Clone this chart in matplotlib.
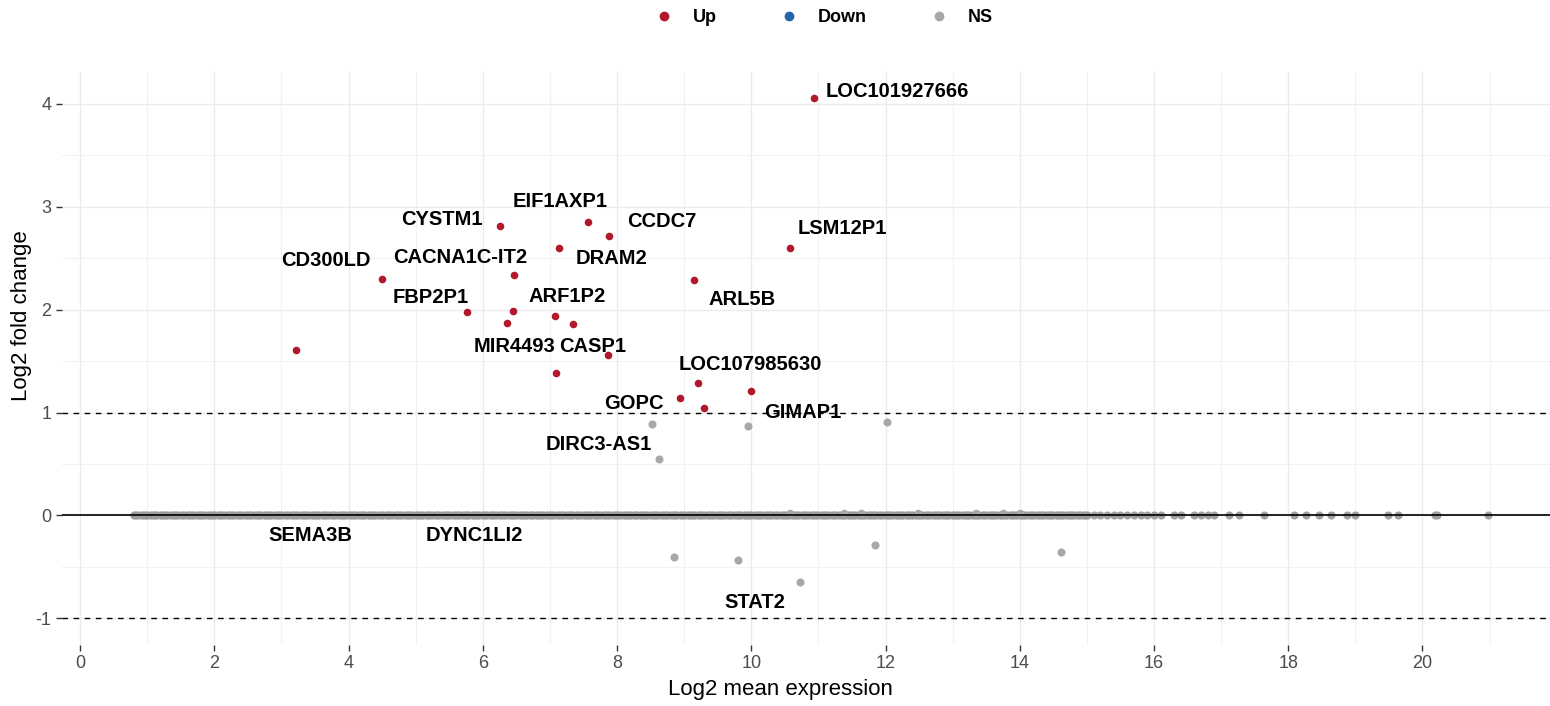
import matplotlib
matplotlib.use('Agg')
import matplotlib.pyplot as plt
from matplotlib.lines import Line2D

plt.rcParams['font.family'] = ['Liberation Sans', 'DejaVu Sans']
plt.rcParams['axes.unicode_minus'] = False

# significant (Up) genes: mean expression, log2 fold change
up_x = [10.93, 10.57, 6.25, 7.57, 7.88, 7.13, 4.50, 6.46, 9.14, 5.76,
        6.45, 7.07, 7.34, 6.36, 3.22, 7.86, 7.09, 9.20, 9.99, 8.94, 9.29]
up_y = [4.06, 2.60, 2.81, 2.85, 2.72, 2.60, 2.30, 2.34, 2.29, 1.98,
        1.99, 1.94, 1.86, 1.87, 1.61, 1.56, 1.38, 1.29, 1.21, 1.14, 1.04]

# non-significant genes away from zero
ns_x = [8.52, 9.95, 12.02, 8.62, 8.85, 9.80, 10.72, 11.84, 14.61]
ns_y = [0.89, 0.87, 0.91, 0.55, -0.40, -0.43, -0.65, -0.29, -0.36]

# the bulk of genes sitting on log2FC = 0 (dense part)
zero_x = [
    0.80, 0.85, 0.90, 0.95,
    1.00, 1.05, 1.10, 1.15, 1.20, 1.25, 1.30, 1.35, 1.40, 1.45, 1.50, 1.55, 1.60, 1.65, 1.70, 1.75, 1.80, 1.85, 1.90, 1.95,
    2.00, 2.05, 2.10, 2.15, 2.20, 2.25, 2.30, 2.35, 2.40, 2.45, 2.50, 2.55, 2.60, 2.65, 2.70, 2.75, 2.80, 2.85, 2.90, 2.95,
    3.00, 3.05, 3.10, 3.15, 3.20, 3.25, 3.30, 3.35, 3.40, 3.45, 3.50, 3.55, 3.60, 3.65, 3.70, 3.75, 3.80, 3.85, 3.90, 3.95,
    4.00, 4.05, 4.10, 4.15, 4.20, 4.25, 4.30, 4.35, 4.40, 4.45, 4.50, 4.55, 4.60, 4.65, 4.70, 4.75, 4.80, 4.85, 4.90, 4.95,
    5.00, 5.05, 5.10, 5.15, 5.20, 5.25, 5.30, 5.35, 5.40, 5.45, 5.50, 5.55, 5.60, 5.65, 5.70, 5.75, 5.80, 5.85, 5.90, 5.95,
    6.00, 6.05, 6.10, 6.15, 6.20, 6.25, 6.30, 6.35, 6.40, 6.45, 6.50, 6.55, 6.60, 6.65, 6.70, 6.75, 6.80, 6.85, 6.90, 6.95,
    7.00, 7.05, 7.10, 7.15, 7.20, 7.25, 7.30, 7.35, 7.40, 7.45, 7.50, 7.55, 7.60, 7.65, 7.70, 7.75, 7.80, 7.85, 7.90, 7.95,
    8.00, 8.05, 8.10, 8.15, 8.20, 8.25, 8.30, 8.35, 8.40, 8.45, 8.50, 8.55, 8.60, 8.65, 8.70, 8.75, 8.80, 8.85, 8.90, 8.95,
    9.00, 9.05, 9.10, 9.15, 9.20, 9.25, 9.30, 9.35, 9.40, 9.45, 9.50, 9.55, 9.60, 9.65, 9.70, 9.75, 9.80, 9.85, 9.90, 9.95,
    10.00, 10.05, 10.10, 10.15, 10.20, 10.25, 10.30, 10.35, 10.40, 10.45, 10.50, 10.55, 10.60, 10.65, 10.70, 10.75, 10.80, 10.85, 10.90, 10.95,
    11.00, 11.05, 11.10, 11.15, 11.20, 11.25, 11.30, 11.35, 11.40, 11.45, 11.50, 11.55, 11.60, 11.65, 11.70, 11.75, 11.80, 11.85, 11.90, 11.95,
    12.00, 12.05, 12.10, 12.15, 12.20, 12.25, 12.30, 12.35, 12.40, 12.45, 12.50, 12.55, 12.60, 12.65, 12.70, 12.75, 12.80, 12.85, 12.90, 12.95,
    13.00, 13.05, 13.10, 13.15, 13.20, 13.25, 13.30, 13.35, 13.40, 13.45, 13.50, 13.55, 13.60, 13.65, 13.70, 13.75, 13.80, 13.85, 13.90, 13.95,
    14.00, 14.05, 14.10, 14.15, 14.20, 14.25, 14.30, 14.35, 14.40, 14.45, 14.50, 14.55, 14.60, 14.65, 14.70, 14.75, 14.80, 14.85, 14.90, 14.95,
    15.00,
]
# sparser genes on zero at high expression
zero_sparse_x = [15.1, 15.2, 15.3, 15.4, 15.5, 15.6, 15.7, 15.8, 15.9, 16.0,
                 16.1, 16.3, 16.4, 16.6, 16.7, 16.8, 16.9,
                 17.12, 17.27, 17.64, 18.09, 18.27, 18.46, 18.64, 18.87,
                 18.99, 19.48, 19.63, 20.19, 20.22, 20.97]
# a few of them sit a hair above zero
bump_x = [10.57, 11.38, 11.64, 12.49, 13.35, 13.75, 14.0]
bump_y = [0.02, 0.02, 0.02, 0.02, 0.02, 0.02, 0.02]

gene_names = ['LOC101927666', 'LSM12P1', 'CYSTM1', 'EIF1AXP1', 'CCDC7',
              'DRAM2', 'CD300LD', 'CACNA1C-IT2', 'ARL5B', 'FBP2P1', 'ARF1P2',
              'MIR4493', 'CASP1', 'LOC107985630', 'GOPC', 'GIMAP1',
              'DIRC3-AS1', 'SEMA3B', 'DYNC1LI2', 'STAT2']
# where the repelled labels ended up
label_pos = [(12.17, 4.12), (11.36, 2.79), (5.39, 2.88), (7.15, 3.05),
             (8.67, 2.86), (7.91, 2.50), (3.66, 2.48), (5.67, 2.51),
             (9.86, 2.10), (5.23, 2.12), (7.25, 2.13), (6.47, 1.64),
             (7.63, 1.64), (9.99, 1.47), (8.25, 1.09), (10.77, 1.00),
             (7.73, 0.69), (3.43, -0.20), (5.87, -0.20), (10.05, -0.85)]

col_up = '#B2182B'
col_down = '#2166AC'
col_ns = '#A8A8A8'

fig = plt.figure(figsize=(15.5, 7.06), dpi=100)
ax = fig.add_axes([0.04, 0.0864, 0.96, 0.813])

ax.scatter(zero_x, [0] * len(zero_x), s=36, color='#9C9C9C', linewidths=0, zorder=2)
ax.scatter(zero_sparse_x, [0] * len(zero_sparse_x), s=34, color='#A0A0A0',
           linewidths=0, zorder=2)
ax.scatter(bump_x, bump_y, s=30, color=col_ns, linewidths=0, zorder=2)
ax.scatter(ns_x, ns_y, s=34, color=col_ns, linewidths=0, zorder=2)
ax.scatter(up_x, up_y, s=30, color=col_up, linewidths=0, zorder=4)

ax.axhline(0, color='black', lw=1.2, zorder=3)
ax.axhline(1, color='black', lw=1.0, ls=(0, (4, 4)), zorder=3)
ax.axhline(-1, color='black', lw=1.0, ls=(0, (4, 4)), zorder=3)

for name, (lx, ly) in zip(gene_names, label_pos):
    ax.text(lx, ly, name, fontsize=14.5, fontweight='bold', color='black',
            ha='center', va='center', zorder=5)

ax.set_xlim(-0.27, 21.9)
ax.set_ylim(-1.26, 4.32)
ax.set_xticks(range(0, 21, 2))
ax.set_xticks(range(1, 22, 2), minor=True)
ax.set_yticks([-1, 0, 1, 2, 3, 4])
ax.set_yticks([-0.5, 0.5, 1.5, 2.5, 3.5], minor=True)
ax.grid(True, which='major', color='#EBEBEB', lw=1.0, zorder=0)
ax.grid(True, which='minor', color='#F2F2F2', lw=0.8, zorder=0)
ax.set_axisbelow(True)
for sp in ax.spines.values():
    sp.set_visible(False)
ax.tick_params(which='major', length=4, color='#333333', labelsize=13,
               labelcolor='#4D4D4D', width=1)
ax.tick_params(which='minor', length=0)
ax.set_xlabel('Log2 mean expression', fontsize=16)
ax.set_ylabel('Log2 fold change', fontsize=16)
ax.xaxis.set_label_coords(0.4825, -0.078)
ax.yaxis.set_label_coords(-0.027, 0.573)
ax.xaxis.label.set_va('center')
ax.yaxis.label.set_va('center')

handles = [Line2D([], [], marker='o', ls='', color=c, markersize=6)
           for c in (col_up, col_down, col_ns)]
leg = fig.legend(handles, ['Up', 'Down', 'NS'], loc='center',
                 bbox_to_anchor=(0.532, 0.975), ncol=3, frameon=False,
                 handlelength=0.8, handletextpad=1.2, columnspacing=3.6,
                 prop={'size': 13, 'weight': 'bold'})

fig.savefig('out.png', dpi=100)
